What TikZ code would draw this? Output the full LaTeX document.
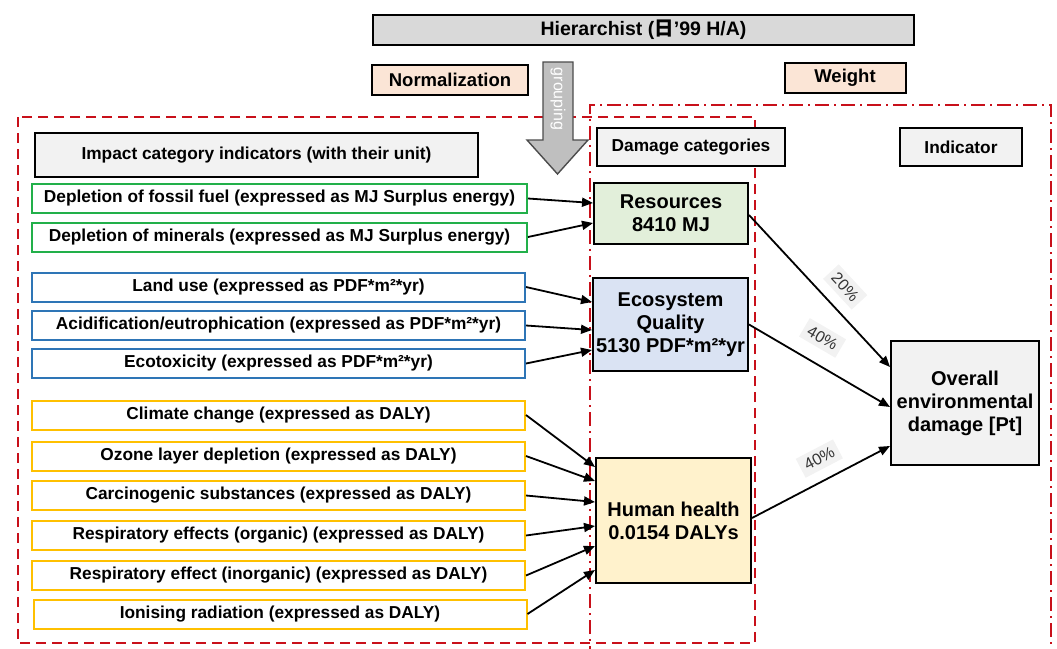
\documentclass[tikz,border=0pt]{standalone}
\usepackage{fontspec}
\setmainfont{Liberation Sans}
\newfontfamily\cjk{Noto Sans CJK SC}
\usetikzlibrary{arrows.meta,calc}
\definecolor{redline}{HTML}{C8101A}
\definecolor{gborder}{HTML}{22B04A}
\definecolor{bborder}{HTML}{2E75B6}
\definecolor{yborder}{HTML}{FFC000}
\definecolor{hdrfill}{HTML}{F2F2F2}
\definecolor{titlefill}{HTML}{D9D9D9}
\definecolor{peach}{HTML}{FBE5D6}
\definecolor{resfill}{HTML}{E2EFDA}
\definecolor{ecofill}{HTML}{DAE3F3}
\definecolor{hhfill}{HTML}{FFF2CC}
\definecolor{arrowfill}{HTML}{BFBFBF}
\begin{document}
\begin{tikzpicture}[x=1pt,y=-1pt,
  ltext/.style={font=\fontsize{17.3}{19}\selectfont\bfseries},
  lbox/.style={ltext, line width=2pt, fill=white, inner sep=0pt, minimum width=493pt, minimum height=29pt},
  gbox/.style={lbox, draw=gborder},
  bbox/.style={lbox, draw=bborder},
  ybox/.style={lbox, draw=yborder},
  hdr/.style={draw=black, line width=2pt, fill=hdrfill, inner sep=0pt, font=\fontsize{17.3}{19}\selectfont\bfseries},
  pbox/.style={draw=black, line width=2pt, fill=peach, inner sep=0pt, font=\fontsize{18.5}{21}\selectfont\bfseries},
  dmg/.style={draw=black, line width=2pt, inner sep=0pt, align=center, font=\fontsize{20}{23}\selectfont\bfseries},
  conn/.style={-{Triangle[length=11pt,width=9pt]}, line width=1.8pt, black},
  pct/.style={sloped, fill=hdrfill, text=black!80, inner sep=5pt, font=\fontsize{16}{18}\selectfont},
  dashbox/.style={draw=redline, line width=1.8pt, dash pattern=on 10pt off 6pt},
  dotbox/.style={draw=redline, line width=1.8pt, dash pattern=on 14pt off 5pt on 2pt off 5pt}
]
\useasboundingbox (0,0) rectangle (1057,648);
% frames
\draw[dashbox] (18,117) rectangle (755,643);
\draw[dotbox] (590,660) -- (590,105) -- (1051,105) -- (1051,660);

% top labels
\node[draw=black, line width=2pt, fill=titlefill, inner sep=0pt, minimum width=541pt, minimum height=30pt,
      font=\fontsize{19.5}{22}\selectfont\bfseries] (title) at (643.5,30) {Hierarchist ({\cjk 日}’99 H/A)};
\node[pbox, minimum width=156pt, minimum height=30pt] (norm) at (450,80) {Normalization};
\node[pbox, minimum width=121pt, minimum height=30pt] (wt) at (845,78) {Weight};

% grouping arrow
\draw[draw=black!70, line width=1.4pt, fill=arrowfill]
  (543,62) -- (573,62) -- (573,140) -- (588,140) -- (557.5,174) -- (527,140) -- (543,140) -- cycle;
\node[rotate=-90, text=white, font=\fontsize{16}{18}\selectfont] (grp) at (558,99) {grouping};

% headers
\node[hdr, minimum width=443pt, minimum height=44pt] (ich) at (256.5,155) {Impact category indicators (with their unit)};
\node[hdr, minimum width=188pt, minimum height=38pt] (dch) at (691,147) {Damage categories};
\node[hdr, minimum width=122pt, minimum height=38pt] (inh) at (961,147) {Indicator};

% impact category boxes
\node[gbox, minimum width=495pt] (f1) at (279.5,198.5) {Depletion of fossil fuel (expressed as MJ Surplus energy)};
\node[gbox, minimum width=495pt] (f2) at (279.5,237) {Depletion of minerals (expressed as MJ Surplus energy)};
\node[bbox] (e1) at (278.5,287) {Land use (expressed as PDF*m²*yr)};
\node[bbox] (e2) at (278.5,325.5) {Acidification/eutrophication (expressed as PDF*m²*yr)};
\node[bbox] (e3) at (278.5,363.5) {Ecotoxicity (expressed as PDF*m²*yr)};
\node[ybox] (h1) at (278.5,415) {Climate change (expressed as DALY)};
\node[ybox] (h2) at (278.5,456) {Ozone layer depletion (expressed as DALY)};
\node[ybox] (h3) at (278.5,495.5) {Carcinogenic substances (expressed as DALY)};
\node[ybox] (h4) at (278.5,535.5) {Respiratory effects (organic) (expressed as DALY)};
\node[ybox] (h5) at (278.5,575.5) {Respiratory effect (inorganic) (expressed as DALY)};
\node[ybox] (h6) at (280,614) {Ionising radiation (expressed as DALY)};

% damage categories
\node[dmg, fill=resfill, minimum width=154pt, minimum height=61pt] (res) at (671,213.5) {Resources\\8410 MJ};
\node[dmg, fill=ecofill, minimum width=155pt, minimum height=93pt] (eq) at (670.5,324.5) {Ecosystem\\Quality\\5130 PDF*m²*yr};
\node[dmg, fill=hhfill, minimum width=155pt, minimum height=125pt] (hh) at (673.5,520.5) {Human health\\0.0154 DALYs};
\node[dmg, fill=hdrfill, minimum width=148pt, minimum height=124pt] (ov) at (965,403) {Overall\\environmental\\damage [Pt]};

% connectors to damage categories
\draw[conn] (f1.east) -- ($(res.west)+(0,-10.5)$);
\draw[conn] (f2.east) -- ($(res.west)+(0,9.5)$);
\draw[conn] (e1.east) -- ($(eq.west)+(0,-22.5)$);
\draw[conn] (e2.east) -- ($(eq.west)+(0,5.5)$);
\draw[conn] (e3.east) -- ($(eq.west)+(0,25.5)$);
\draw[conn] (h1.east) -- ($(hh.west)+(0,-53.5)$);
\draw[conn] (h2.east) -- ($(hh.west)+(0,-39.5)$);
\draw[conn] (h3.east) -- ($(hh.west)+(0,-18.5)$);
\draw[conn] (h4.east) -- ($(hh.west)+(0,5.5)$);
\draw[conn] (h5.east) -- ($(hh.west)+(0,25.5)$);
\draw[conn] (h6.east) -- ($(hh.west)+(0,49.5)$);

% weighting connectors
\draw[conn] ($(res.east)+(0,1.5)$) -- node[pct, pos=0.57, above=10pt] (p1) {20\%} ($(ov.west)+(0,-36)$);
\draw[conn] (eq.east) -- node[pct, pos=0.43, above=14pt] (p2) {40\%} ($(ov.west)+(0,4)$);
\draw[conn] ($(hh.east)+(0,-2.5)$) -- node[pct, pos=0.56, above=10pt] (p3) {40\%} ($(ov.west)+(0,43)$);
\end{tikzpicture}
\end{document}
